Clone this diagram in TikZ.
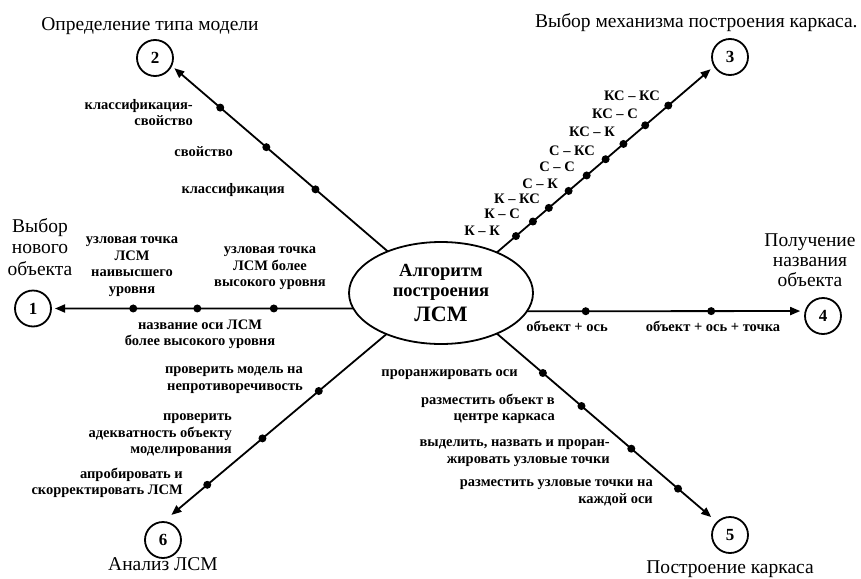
\documentclass[tikz,border=0pt]{standalone}
\usepackage{fontspec}
\setmainfont{Liberation Serif}
\usetikzlibrary{arrows.meta,shapes.geometric}
\begin{document}
\begin{tikzpicture}[x=1pt,y=-1pt,
  axis/.style={line width=1.8pt,-{Triangle[length=10pt,width=8pt]}},
  dot/.style={circle,fill=black,inner sep=0pt,minimum size=8pt},
  num/.style={circle,draw,line width=1.8pt,minimum size=36pt,inner sep=0pt,outer sep=0pt,font=\fontsize{17}{17}\selectfont\bfseries},
  ttl/.style={font=\fontsize{19.5}{21.5}\selectfont,inner sep=0pt},
  lbl/.style={font=\fontsize{14.5}{16.5}\selectfont\bfseries,inner sep=0pt},
  lblr/.style={lbl,align=right,anchor=north east,execute at begin node=\strut},
  lblc/.style={lbl,align=center,anchor=north,execute at begin node=\strut},
  lbls/.style={lbl,anchor=base east}]
\useasboundingbox (0,0) rectangle (861,578);
% centre
\node[ellipse,draw,line width=1.8pt,minimum width=184pt,minimum height=102pt,inner sep=0pt,outer sep=0pt,align=center,font=\fontsize{18.5}{20}\selectfont\bfseries] (c) at (441,293) {Алгоритм\\построения\\[5pt]{\fontsize{22}{22}\selectfont ЛСМ}};
% numbered circles
\node[num] (n1) at (33,308.5) {1};
\node[num] (n2) at (155,58) {2};
\node[num] (n3) at (730,57) {3};
\node[num] (n4) at (823,316) {4};
\node[num] (n5) at (730,535) {5};
\node[num] (n6) at (163,540) {6};
% titles
\node[ttl,anchor=base] (t2) at (150,31) {Определение типа модели};
\node[ttl,anchor=base west] (t3) at (535,28) {Выбор механизма построения каркаса.};
\node[ttl,align=center,anchor=north,execute at begin node=\strut] (t1) at (40,218) {Выбор\\нового\\объекта};
\node[ttl,font=\fontsize{19.5}{20}\selectfont,align=center,anchor=north,execute at begin node=\strut] (t4) at (810,234) {Получение\\названия\\объекта};
\node[ttl,anchor=base] (t6) at (163,570) {Анализ ЛСМ};
\node[ttl,anchor=base] (t5) at (730,573) {Построение каркаса};
% axes
\draw[axis,shorten >=4pt] (c.190) -- (n1)
  node[dot,pos=0.263] (d11) {} node[dot,pos=0.516] (d12) {} node[dot,pos=0.728] (d13) {};
\draw[axis,shorten >=4pt] (c.142) -- (n2.335)
  node[dot,pos=0.334] (d21) {} node[dot,pos=0.561] (d22) {} node[dot,pos=0.774] (d23) {};
\draw[axis,shorten >=5pt] (c.36) -- (n3.210)
  node[dot,pos=0.088] (d31) {} node[dot,pos=0.166] (d32) {} node[dot,pos=0.239] (d33) {}
  node[dot,pos=0.330] (d34) {} node[dot,pos=0.413] (d35) {} node[dot,pos=0.500] (d36) {}
  node[dot,pos=0.582] (d37) {} node[dot,pos=0.682] (d38) {} node[dot,pos=0.788] (d39) {};
\draw[axis,shorten >=5.5pt] (c.-12) -- (n4.164)
  node[dot,pos=0.211] (d41) {} node[dot,pos=0.661] (d42) {};
\draw[axis,shorten >=8pt] (c.-36) -- (n5.135)
  node[dot,pos=0.209] (d51) {} node[dot,pos=0.384] (d52) {} node[dot,pos=0.610] (d53) {} node[dot,pos=0.822] (d54) {};
\draw[axis,shorten >=11pt] (c.217) -- (n6.north)
  node[dot,pos=0.303] (d61) {} node[dot,pos=0.555] (d62) {} node[dot,pos=0.802] (d63) {};
% axis 2 labels
\node[lblr] (a2l1) at (193,99) {классификация-\\свойство};
\node[lbls] (a2l2) at (233,156.3) {свойство};
\node[lbls] (a2l3) at (285,193.3) {классификация};
% axis 1 labels
\node[lblc] (a1l1) at (132,236.5) {узловая точка\\ЛСМ\\наивысшего\\уровня};
\node[lblc] (a1l2) at (270,246.5) {узловая точка\\ЛСМ более\\высокого уровня};
\node[lblc] (a1l3) at (200,319.5) {название оси ЛСМ\\более высокого уровня};
% axis 3 labels
\node[lbls] (a3l9) at (660,100) {КС – КС};
\node[lbls] (a3l8) at (638,118) {КС – С};
\node[lbls] (a3l7) at (615,136) {КС – К};
\node[lbls] (a3l6) at (595,155) {С – КС};
\node[lbls] (a3l5) at (575,171) {С – С};
\node[lbls] (a3l4) at (558,188) {С – К};
\node[lbls] (a3l3) at (540,203) {К – КС};
\node[lbls] (a3l2) at (520,218) {К – С};
\node[lbls] (a3l1) at (500,235) {К – К};
% axis 4 labels
\node[lbl,anchor=base] (a4l1) at (567,331) {объект + ось};
\node[lbl,anchor=base] (a4l2) at (713,331) {объект + ось + точка};
% axis 6 labels
\node[lblr] (a6l1) at (303,366.5) {проверить модель на\\непротиворечивость};
\node[lblr] (a6l2) at (232,413.5) {проверить\\адекватность объекту\\моделирования};
\node[lblr] (a6l3) at (183,467.5) {апробировать и\\скорректировать ЛСМ};
% axis 5 labels
\node[lbls] (a5l1) at (518,376) {проранжировать оси};
\node[lblr] (a5l2) at (555,393.5) {разместить объект в\\центре каркаса};
\node[lblr] (a5l3) at (610,439.5) {выделить, назвать и проран-\\жировать узловые точки};
\node[lblr] (a5l4) at (653,479.5) {разместить узловые точки на\\каждой оси};
\end{tikzpicture}
\end{document}
